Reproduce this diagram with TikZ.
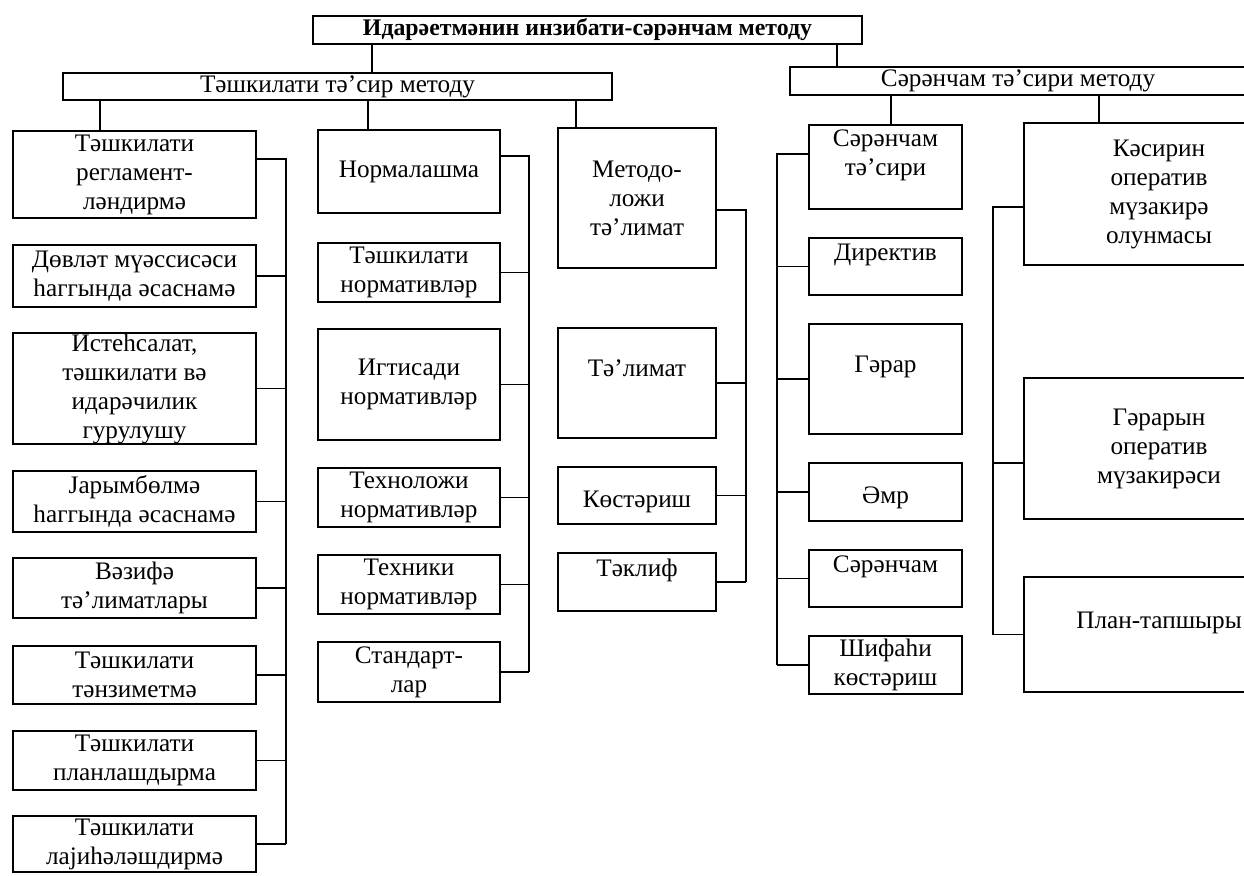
\documentclass[tikz,border=0pt]{standalone}
\usepackage{fontspec}
\setmainfont{Liberation Serif}
\usetikzlibrary{calc}

\begin{document}
\begin{tikzpicture}[x=0.5pt,y=-0.5pt,line width=0.9pt,
        font=\fontsize{12.6}{14.5}\selectfont,
        box/.style={draw,rectangle,inner sep=0pt,outer sep=0pt,align=center},
        wide/.style={minimum width=#1*0.5pt},
        tall/.style={minimum height=#1*0.5pt},
        col1/.style={box,wide=243},
        col2/.style={box,wide=182},
        col3/.style={box,wide=158},
        col4/.style={box,wide=153},
        col5/.style={box,wide=270}]
    \useasboundingbox (0,0) rectangle (1244,875);
    \clip (0,0) rectangle (1244,875);
    % top levels
    \node[box,wide=549,tall=28,font=\fontsize{11.9}{14}\selectfont\bfseries] (top) at (587.5,30) {Идарәетмәнин инзибати-сәрәнчам методу};
    \node[box,wide=549,tall=27] (orgm) at (337.5,86.5) {Тәшкилати тә'сир методу};
    \node[box,wide=456,tall=28] (ordm) at (1018,81) {Сәрәнчам тә'сири методу};
    % first column
    \node[col1,tall=87] (c1a) at (134.5,174.5) {Тәшкилати\\регламент-\\ләндирмә};
    \node[col1,tall=62] (c1b) at (134.5,276) {Дөвләт мүәссисәси\\һаггында әсаснамә};
    \node[col1,tall=111] (c1c) at (134.5,388.5) {Истеһсалат,\\тәшкилати вә\\идарәчилик\\гурулушу};
    \node[col1,tall=61] (c1d) at (134.5,501.5) {Јарымбөлмә\\һаггында әсаснамә};
    \node[col1,tall=60] (c1e) at (134.5,588) {Вәзифә\\тә'лиматлары};
    \node[col1,tall=58] (c1f) at (134.5,675) {Тәшкилати\\тәнзиметмә};
    \node[col1,tall=59] (c1g) at (134.5,760.5) {Тәшкилати\\планлашдырма};
    \node[col1,tall=56] (c1h) at (134.5,844) {Тәшкилати\\лајиһәләшдирмә};
    % second column
    \node[col2,tall=83] (c2a) at (409,171.5) {Нормалашма};
    \node[col2,tall=59] (c2b) at (409,272.5) {Тәшкилати\\нормативләр};
    \node[col2,tall=111] (c2c) at (409,384.5) {Игтисади\\нормативләр};
    \node[col2,tall=59] (c2d) at (409,497.5) {Техноложи\\нормативләр};
    \node[col2,tall=59] (c2e) at (409,584.5) {Техники\\нормативләр};
    \node[col2,tall=60] (c2f) at (409,672) {Стандарт-\\лар};
    % third column
    \node[col3,tall=140] (c3a) at (637,198) {Методо-\\ложи\\тә'лимат};
    \node[col3,tall=110] (c3b) at (637,383) {Тә'лимат\\~};
    \node[col3,tall=57] (c3c) at (637,495.5) {~\\Көстәриш};
    \node[col3,tall=58] (c3d) at (637,582) {Тәклиф\\~};
    % fourth column
    \node[col4,tall=84] (c4a) at (885.5,167) {Сәрәнчам\\тә'сири\\~};
    \node[col4,tall=57] (c4b) at (885.5,266.5) {Директив\\~};
    \node[col4,tall=110] (c4c) at (885.5,379) {Гәрар\\~};
    \node[col4,tall=58] (c4d) at (885.5,492) {~\\Әмр};
    \node[col4,tall=57] (c4e) at (885.5,578.5) {Сәрәнчам\\~};
    \node[col4,tall=58] (c4f) at (885.5,665) {Шифаһи\\көстәриш};
    % fifth column
    \node[col5,tall=142] (c5a) at (1159,194) {Кәсирин\\оператив\\мүзакирә\\олунмасы};
    \node[col5,tall=141] (c5b) at (1159,448.5) {Гәрарын\\оператив\\мүзакирәси};
    \node[col5,tall=115] (c5c) at (1159,634.5) {План-тапшыры\\~};
    % drops and buses
    \coordinate (dropL) at (372,0);
    \coordinate (dropR) at (837,0);
    \coordinate (drop1) at (100,0);
    \coordinate (drop2) at (368,0);
    \coordinate (drop3) at (576,0);
    \coordinate (drop4) at (891,0);
    \coordinate (drop5) at (1099,0);
    \coordinate (bus1) at (286,0);
    \coordinate (bus2) at (529,0);
    \coordinate (bus3) at (746,0);
    \coordinate (bus4) at (777,0);
    \coordinate (bus5) at (993,0);
    \draw (top.south -| dropL) -- (orgm.north -| dropL);
    \draw (top.south -| dropR) -- (ordm.north -| dropR);
    \draw (orgm.south -| drop1) -- (c1a.north -| drop1);
    \draw (orgm.south -| drop2) -- (c2a.north -| drop2);
    \draw (orgm.south -| drop3) -- (c3a.north -| drop3);
    \draw (ordm.south -| drop4) -- (c4a.north -| drop4);
    \draw (ordm.south -| drop5) -- (c5a.north -| drop5);
    % side connectors
    \coordinate (c1out) at ($(c1a.east)+(0,-15.5)$);
    \coordinate (c2out) at ($(c2a.east)+(0,-15.5)$);
    \coordinate (c3out) at ($(c3a.east)+(0,12)$);
    \coordinate (c4out) at ($(c4a.west)+(0,-13)$);
    \coordinate (c5out) at ($(c5a.west)+(0,13)$);
    \coordinate (c5mid) at ($(c5b.west)+(0,14.5)$);
    \draw (c1out) -- (c1out -| bus1) -- (c1h.east -| bus1);
    \foreach \n in {c1b,c1c,c1d,c1e,c1f,c1g,c1h}
        \draw (\n.east) -- (\n.east -| bus1);
    \draw (c2out) -- (c2out -| bus2) -- (c2f.east -| bus2);
    \foreach \n in {c2b,c2c,c2d,c2e,c2f}
        \draw (\n.east) -- (\n.east -| bus2);
    \draw (c3out) -- (c3out -| bus3) -- (c3d.east -| bus3);
    \foreach \n in {c3b,c3c,c3d}
        \draw (\n.east) -- (\n.east -| bus3);
    \draw (c4out) -- (c4out -| bus4) -- (c4f.west -| bus4);
    \foreach \n in {c4b,c4c,c4d,c4e,c4f}
        \draw (\n.west) -- (\n.west -| bus4);
    \draw (c5out) -- (c5out -| bus5) -- (c5c.west -| bus5);
    \draw (c5mid) -- (c5mid -| bus5);
    \draw (c5c.west) -- (c5c.west -| bus5);
\end{tikzpicture}
\end{document}
